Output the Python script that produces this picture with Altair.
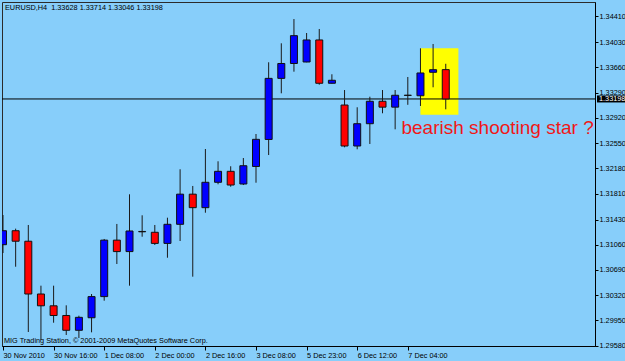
import altair as alt
import pandas as pd

# ---- data (EURUSD H4 candles) ----
opens = [1.31061, 1.31266, 1.31112, 1.30338, 1.30165, 1.30023, 1.29806, 1.29990, 1.30300, 1.31128,
         1.30960, 1.31250, 1.31243, 1.31080, 1.31360, 1.31802, 1.31604, 1.31976, 1.32137, 1.31951,
         1.32208, 1.32604, 1.33500, 1.33718, 1.33740, 1.34063, 1.33428, 1.33109, 1.32508, 1.32835,
         1.33164, 1.33078, 1.33250, 1.33245, 1.33589, 1.33628]
highs = [1.31496, 1.31296, 1.31350, 1.30460, 1.30460, 1.30172, 1.30020, 1.30338, 1.31145, 1.31365,
         1.31800, 1.31492, 1.31350, 1.31457, 1.32167, 1.31922, 1.32464, 1.32284, 1.32211, 1.32332,
         1.32684, 1.33736, 1.34014, 1.34370, 1.34165, 1.34224, 1.33560, 1.33329, 1.33076, 1.33231,
         1.33329, 1.33329, 1.33520, 1.33941, 1.34004, 1.33714]
lows = [1.30939, 1.30738, 1.29781, 1.29664, 1.29917, 1.29737, 1.29693, 1.29776, 1.30240, 1.30778,
        1.30460, 1.31178, 1.31057, 1.30870, 1.31115, 1.30592, 1.31530, 1.31947, 1.31911, 1.31936,
        1.31970, 1.32376, 1.33281, 1.33598, 1.33736, 1.33407, 1.33425, 1.32489, 1.32460, 1.32538,
        1.32988, 1.32753, 1.33112, 1.33095, 1.33369, 1.33046]
closes = [1.31266, 1.31112, 1.30338, 1.30165, 1.30023, 1.29806, 1.29996, 1.30300, 1.31128, 1.30960,
          1.31262, 1.31255, 1.31080, 1.31360, 1.31802, 1.31604, 1.31976, 1.32137, 1.31936, 1.32219,
          1.32606, 1.33500, 1.33718, 1.34126, 1.34063, 1.33428, 1.33472, 1.32508, 1.32835, 1.33164,
          1.33078, 1.33252, 1.33253, 1.33579, 1.33627, 1.33198]

x_tick_bars = [0, 4, 8, 12, 16, 20, 24, 28, 32]
x_tick_labels = ["30 Nov 2010", "30 Nov 16:00", "1 Dec 08:00", "2 Dec 00:00", "2 Dec 16:00",
                 "3 Dec 08:00", "5 Dec 23:00", "6 Dec 12:00", "7 Dec 04:00"]
y_tick_values = [1.29580, 1.29950, 1.30320, 1.30690, 1.31060, 1.31430, 1.31810, 1.32180,
                 1.32550, 1.32920, 1.33290, 1.33660, 1.34030, 1.34410]

bid_price = 1.33198
title_text = "EURUSD,H4\u00a0\u00a01.33628 1.33714 1.33046 1.33198"
footer_text = "MIG Trading Station, \u00a9 2001-2009 MetaQuotes Software Corp."
note_text = "bearish shooting star ?"
box_bars = [33, 36]
box_prices = [1.33941, 1.32967]
note_bar = [31.5]
note_price = [1.32680]

# ---- chart ----
FONT = "Liberation Sans, Arial, sans-serif"
SMALL = 7.3
W, H = 593, 344

df = pd.DataFrame({"bar": list(range(len(opens))), "open": opens, "high": highs,
                   "low": lows, "close": closes})

x_scale = alt.Scale(domain=[-0.079, 46.798], nice=False, zero=False, padding=0)
y_scale = alt.Scale(domain=[1.295756, 1.346197], nice=False, zero=False, padding=0)

labels_js = "[" + ",".join("'%s'" % s for s in x_tick_labels) + "]"
bars_js = "[" + ",".join(str(b) for b in x_tick_bars) + "]"

x_axis = alt.Axis(values=x_tick_bars, labelExpr=f"{labels_js}[indexof({bars_js}, datum.value)]",
                  tickSize=4, labelAlign="left", labelBaseline="top", labelPadding=1,
                  labelFlush=False, labelOverlap=False, labelBound=False, grid=False, title=None,
                  domainColor="black", tickColor="black", labelColor="black",
                  labelFont=FONT, labelFontSize=SMALL, zindex=0)
y_axis = alt.Axis(orient="right", values=y_tick_values, format=".5f", tickSize=3, labelPadding=1,
                  labelFlush=False, labelOverlap=False, labelBound=False, grid=False, title=None,
                  domainColor="black", tickColor="black", labelColor="black",
                  labelFont=FONT, labelFontSize=SMALL, zindex=0)


def X(field):
    return alt.X(field, type="quantitative", scale=x_scale, axis=x_axis, title=None)


def Y(field):
    return alt.Y(field, type="quantitative", scale=y_scale, axis=y_axis, title=None)


box = alt.Chart(pd.DataFrame({"x0": [box_bars[0]], "x1": [box_bars[1]],
                              "y0": [box_prices[0]], "y1": [box_prices[1]]})).mark_rect(
    color="#FFFF00", opacity=1, clip=True).encode(x=X("x0"), x2="x1", y=Y("y0"), y2="y1")

bid_line = alt.Chart(pd.DataFrame({"p": [bid_price]})).mark_rule(
    color="black", strokeWidth=1).encode(y=Y("p"))

wicks = alt.Chart(df).mark_rule(color="#1a1a1a", strokeWidth=1, clip=True).encode(
    x=X("bar"), y=Y("low"), y2="high")

bodies = alt.Chart(df).mark_bar(size=7, stroke="#111111", strokeWidth=1, clip=True, opacity=1).encode(
    x=X("bar"), y=Y("open"), y2="close",
    color=alt.condition("datum.close >= datum.open", alt.value("#0000FF"), alt.value("#FF0000")))

note = alt.Chart(pd.DataFrame({"x": note_bar, "y": note_price, "t": [note_text]})).mark_text(
    align="left", baseline="alphabetic", fontSize=19, font=FONT, color="#F01818").encode(
    x=X("x"), y=Y("y"), text="t:N")

title = alt.Chart(pd.DataFrame({"t": [title_text]})).mark_text(
    align="left", baseline="middle", fontSize=SMALL, font=FONT, color="black").encode(
    x=alt.value(3), y=alt.value(6), text="t:N")

footer = alt.Chart(pd.DataFrame({"t": [footer_text]})).mark_text(
    align="left", baseline="middle", fontSize=SMALL, font=FONT, color="black").encode(
    x=alt.value(2), y=alt.value(339), text="t:N")

price_box = alt.Chart(pd.DataFrame({"p": [bid_price]})).mark_tick(
    orient="horizontal", size=29, thickness=7, color="black", opacity=1, clip=False).encode(
    x=alt.value(609.5), y=Y("p"))

price_text = alt.Chart(pd.DataFrame({"p": [bid_price], "t": [f"{bid_price:.5f}"]})).mark_text(
    align="left", baseline="middle", fontSize=SMALL, font=FONT, color="white", clip=False).encode(
    x=alt.value(597), y=Y("p"), text="t:N")

chart = alt.layer(box, bid_line, wicks, bodies, note, title, footer, price_box, price_text).properties(
    width=W, height=H,
    autosize=alt.AutoSizeParams(type="none"),
    padding={"left": 2, "top": 2, "right": 30, "bottom": 15},
    background="#87CEFA",
).configure_view(stroke="#2b2b2b", strokeWidth=1, fill="#87CEFA")

chart.save("out.html", embed_options={"renderer": "svg", "actions": False})
